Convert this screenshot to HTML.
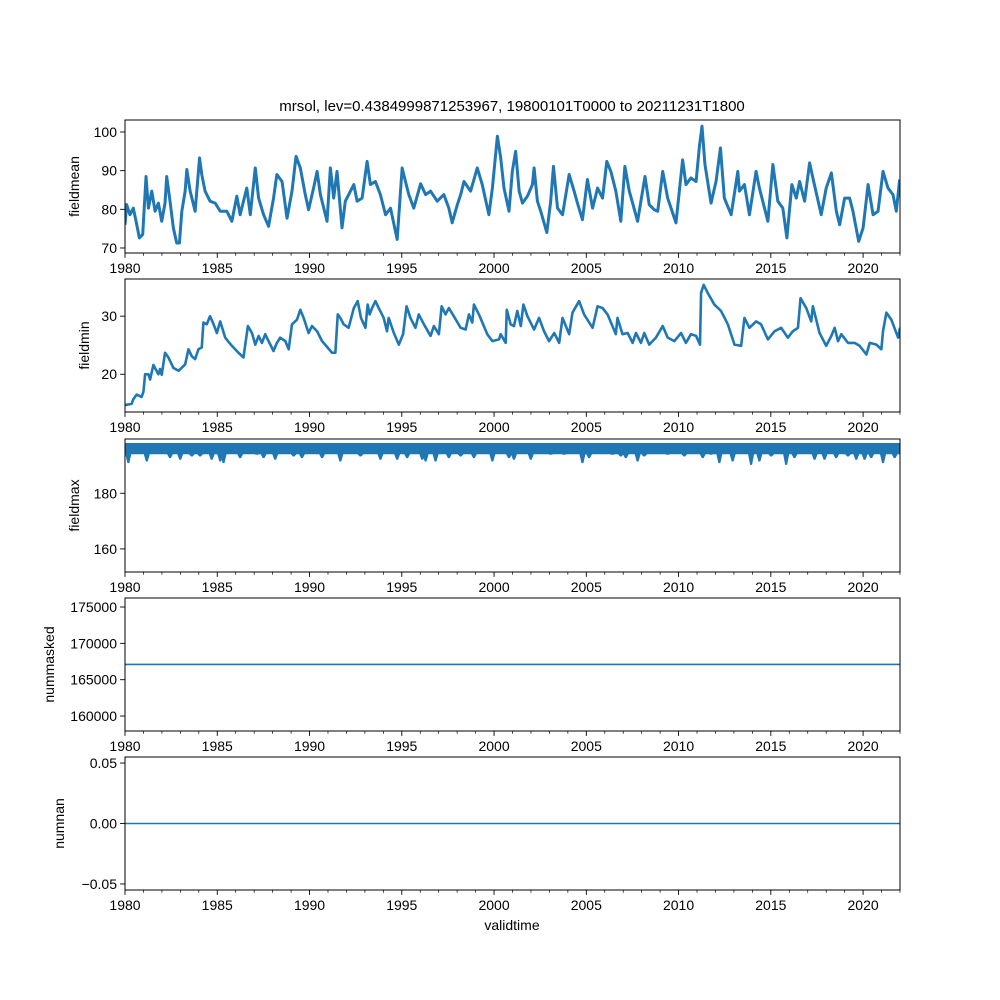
<!DOCTYPE html>
<html><head><meta charset="utf-8"><style>
body{margin:0;background:#fff}
svg{display:block;font-family:"Liberation Sans","DejaVu Sans",sans-serif}
</style></head><body>
<svg id="fig" width="1000" height="1000" viewBox="0 0 1000 1000">
<rect x="0" y="0" width="1000" height="1000" fill="#fff"/>
<text x="512" y="111" font-size="15" text-anchor="middle">mrsol, lev=0.4384999871253967, 19800101T0000 to 20211231T1800</text>
<text x="512" y="930" font-size="14" text-anchor="middle">validtime</text>
</svg>
<script>
// fieldmean
const meanT=[0,.09,.27,.45,.6,.78,.96,1.14,1.27,1.45,1.63,1.81,1.99,2.17,2.26,2.44,2.62,2.8,2.95,3.08,3.26,3.35,3.53,3.8,4.04,4.16,4.34,4.61,4.89,5.16,5.52,5.79,6.06,6.24,6.6,6.79,7.06,7.24,7.51,7.78,8.05,8.23,8.51,8.78,9.05,9.27,9.5,9.77,9.95,10.22,10.41,10.59,10.95,11.13,11.31,11.49,11.76,11.94,12.4,12.58,12.85,13.12,13.3,13.57,13.84,14.12,14.39,14.75,15.02,15.2,15.38,15.65,16.02,16.29,16.56,16.92,17.28,17.55,17.73,18.01,18.19,18.37,18.73,19.09,19.36,19.72,19.91,20.18,
20.36,20.54,20.81,20.99,21.17,21.36,21.54,21.81,22.08,22.17,22.35,22.53,22.86,23.07,23.22,23.44,23.71,24.07,24.34,24.52,24.79,25.06,25.34,25.61,25.88,26.11,26.33,26.6,26.87,27.09,27.33,27.78,28.18,28.41,28.68,28.87,29.14,29.41,29.86,30.22,30.4,30.67,30.95,31.13,31.27,31.43,31.76,32.03,32.27,32.48,32.85,33.21,33.3,33.57,33.84,34.2,34.38,34.84,35.11,35.38,35.65,35.87,36.14,36.38,36.56,36.83,37.1,37.28,37.73,38.0,38.28,38.55,38.73,39.0,39.27,39.45,39.76,40.0,40.27,40.54,40.81,41.08,41.35,41.62,41.8,41.98];
const meanV=[76,81.2,78.6,80.3,76.9,72.6,73.5,88.5,80.3,84.7,79.5,81.6,76.9,81.6,88.5,82.1,75.2,71.3,71.3,79.5,84.7,90.3,84.7,79.5,93.3,89,84.7,82.1,81.6,79.5,79.5,76.9,83.4,78.6,85.5,78.6,90.7,82.9,78.6,75.6,82.9,89,87.2,77.7,84.7,93.7,90.7,83.8,79.9,85.5,89.8,83.8,76.9,90.7,82.9,89.8,75.2,82.1,86.4,82.1,82.9,92.4,86.4,87.2,83.8,78.6,80.3,72.2,90.7,87.2,83.8,80.3,86.6,83.8,84.7,82.1,83.8,80.3,76.5,81.2,83.8,87.2,84.7,90.7,86.4,78.6,85.5,98.9,
93.3,85.5,79.5,89.8,95,84.7,81.6,83.4,86.4,90.7,82.1,79.5,74,82.1,91.1,80.3,78.6,89,84.7,81.6,77.3,87.7,80.3,85.5,82.9,92.4,89.8,84.7,76.9,91.1,84.7,76.9,88.5,81.2,79.9,79.5,89.8,82.9,76.5,92.8,86.4,88.1,87.2,96.3,101.5,91.6,81.6,87.2,95.9,82.9,78.6,89.8,84.7,86.4,78.6,89.8,85.5,76.9,91.6,82.1,80.3,72.6,86.4,82.9,87.2,82.1,92,88.1,78.6,85.5,89.4,79.5,76,82.9,82.9,79.5,71.7,75.2,86.4,78.6,79.5,89.8,85.5,83.8,79.5,87.7];
// fieldmin
const minT=[0,.36,.45,.63,.9,1.0,1.09,1.27,1.36,1.54,1.81,1.9,1.99,2.17,2.35,2.62,2.9,3.26,3.44,3.62,3.8,3.98,4.16,4.25,4.43,4.61,4.8,4.98,5.16,5.43,5.79,6.15,6.42,6.66,6.88,7.06,7.24,7.42,7.6,7.78,8.05,8.23,8.41,8.69,8.87,9.05,9.32,9.5,9.68,9.95,10.13,10.41,10.68,11.22,11.4,11.53,11.67,11.85,12.12,12.4,12.61,12.79,13.03,13.15,13.26,13.39,13.57,13.75,14.02,14.2,14.29,14.57,14.84,15.07,15.26,15.47,15.74,15.92,16.2,16.56,16.74,17.01,17.16,17.37,17.55,17.82,18.19,18.46,18.64,18.82,18.91,19.18,19.63,19.91,20.27,
20.36,20.63,20.69,20.9,21.08,21.26,21.45,21.59,21.81,22.17,22.44,22.71,22.98,23.26,23.53,23.71,24.07,24.25,24.61,24.88,25.34,25.61,25.88,26.15,26.6,26.69,26.96,27.24,27.51,27.69,27.96,28.14,28.41,28.77,29.14,29.41,29.77,30.13,30.4,30.67,30.95,31.16,31.22,31.36,31.58,31.94,32.3,32.67,33.03,33.39,33.57,33.84,34.2,34.47,34.84,35.2,35.56,35.92,36.19,36.47,36.61,36.92,37.19,37.28,37.64,38.0,38.28,38.46,38.64,38.82,39.18,39.54,39.81,40.18,40.36,40.72,40.99,41.08,41.26,41.53,41.9,42.0];
const minV=[14.7,14.9,15.7,16.5,16.1,17,20,20,19.1,21.6,20,20.9,19.9,23.7,22.9,21.1,20.6,21.7,24.3,23.1,22.6,24.3,24.6,28.9,28.6,30,28.6,27.1,29.1,26.3,24.9,23.7,22.9,28.3,27.1,25.1,26.6,25.4,26.9,25.7,24,25.4,26.3,25.7,24.3,28.6,29.4,31.1,29.7,27.1,28.3,27.4,25.7,23.7,23.7,30.3,29.7,28.6,28,31.4,32.6,29.7,28,32,30.3,31.4,32.6,31.4,29.7,27.4,29.7,27.1,25.1,26.9,31.7,29.7,28,30.3,28.6,26.6,28.3,26.9,31.7,30.3,31.4,30,28,27.7,30.3,28.9,32,30.3,26.9,25.7,26,
26.9,25.4,31.1,28.6,28.3,30.9,28.3,32,30,27.7,29.7,27.4,25.7,27.1,25.4,29.7,26.9,30.6,32.6,30.3,28,31.7,31.4,30.3,26.9,29.7,26.9,27.1,25.4,27.1,25.4,27.1,25.1,26.3,28.3,26.3,25.7,27.1,25.4,26.9,26.6,25.1,34,35.4,34,32,30.9,28.6,25.1,24.9,29.7,28,29.1,28.6,26,27.4,28,26.3,27.4,28,33.1,31.4,29.1,31.7,27.1,24.9,26.6,28,25.7,26.9,25.4,25.4,24.9,23.4,25.4,25.1,24.3,27.4,30.6,29.4,26.3,28];
// fieldmax: dip events below the upper envelope
const maxTop=197.9, maxBase=194.2;
const dipT=[.18,1.18,2.44,2.99,3.62,4.07,4.7,5.16,5.34,6.24,7.15,7.51,8.14,9.14,9.59,10.68,11.67,12.76,13.84,14.75,15.29,16.11,16.29,16.83,17.55,18.19,18.91,19.91,20.81,21.08,21.99,23.07,23.8,24.79,25.15,26.42,26.87,27.14,27.78,28.14,29.41,30.31,31.31,31.76,32.21,32.93,33.93,34.38,35.02,35.83,36.28,37.37,37.91,38.54,39.18,39.63,40.08,40.44,41.08,41.71];
const dipV=[191,191.6,192.8,192.2,193.4,193.4,192.2,191.6,191,192.8,194,192.8,192.2,193.4,192.8,192.8,191.6,193.4,192.2,192.2,192.8,192.2,191.6,191.6,192.8,193.4,192.8,191.6,192.8,192.2,192.2,194,194,191,192.8,194,193.4,192.8,191.6,193.4,194,193.4,192.8,194,191,191.6,190.4,191.6,193.4,190.4,192.8,192.2,192.2,192.8,193.4,192.2,192.2,192.8,191,192.8];
const nummaskedValue=[167100];
const numnanValue=[0];
const xTickYears=[1980,1985,1990,1995,2000,2005,2010,2015,2020];
const meanTicks=[70,80,90,100], minTicks=[20,30], maxTicks=[160,180];
const maskTicks=[160000,165000,170000,175000], nanTicks=[-0.05,0,0.05];
const nanTickLabels=["\u22120.05","0.00","0.05"];

const NS="http://www.w3.org/2000/svg";
const svg=document.getElementById('fig');
const X0=125,X1=900,T0=0,T1=42;
const xs=t=>X0+(t-T0)/(T1-T0)*(X1-X0);
function mk(tag,attrs,parent){const e=document.createElementNS(NS,tag);for(const k in attrs)e.setAttribute(k,attrs[k]);(parent||svg).appendChild(e);return e;}
const panels=[
 {name:'fieldmean',top:120,lo:68.7,hi:103.1,ticks:meanTicks},
 {name:'fieldmin',top:279,lo:13.5,hi:36.4,ticks:minTicks},
 {name:'fieldmax',top:439,lo:151.7,hi:199.5,ticks:maxTicks},
 {name:'nummasked',top:598,lo:157940,hi:176240,ticks:maskTicks},
 {name:'numnan',top:757,lo:-0.055,hi:0.055,ticks:nanTicks,labels:nanTickLabels}
];
const H=133;
panels.forEach((p,i)=>{
 const ys=v=>p.top+H-(v-p.lo)/(p.hi-p.lo)*H;
 p.ys=ys;
 const g=mk('g',{});
 
 
 const clip=mk('clipPath',{id:'c'+i},g);
 mk('rect',{x:X0,y:p.top,width:X1-X0,height:H},clip);
 const dg=mk('g',{'clip-path':'url(#c'+i+')'},g);
 p.dg=dg;
 p.ticks.forEach((v,k)=>{
  const y=ys(v);
  const tl=mk('line',{x1:X0-4.9,x2:X0,y1:y,y2:y,stroke:'#000','stroke-width':0.9},g);
  
  
  const tx=mk('text',{x:X0-8,y:y+5,'font-size':14,'text-anchor':'end'},g);
  tx.textContent=p.labels?p.labels[k]:String(v);
  
  
 });
 for(let yr=1980;yr<=2022;yr++){
  const x=xs(yr-1980);
  const major=xTickYears.includes(yr);
  mk('line',{x1:x,x2:x,y1:p.top+H,y2:p.top+H+(major?4.9:2.8),stroke:'#000','stroke-width':major?0.9:0.7},g);
 }
 xTickYears.forEach(yr=>{
  const tx=mk('text',{x:xs(yr-1980),y:p.top+H+20,'font-size':14,'text-anchor':'middle'},g);
  tx.textContent=String(yr);
  
  
 });
 const lab=mk('text',{x:0,y:0,'font-size':14,'text-anchor':'middle',transform:'translate('+(i==4?64:i==3?54:i==0?79:i==1?89:79)+','+(p.top+H/2)+') rotate(-90)'},g);
 lab.textContent=p.name;
 
 
 p.g=g;
});
function line(p,T,V,name,w){
 const d=T.map((t,k)=>(k?'L':'M')+xs(t).toFixed(2)+','+p.ys(V[k]).toFixed(2)).join('');
 const e=mk('path',{d:d,fill:'none',stroke:'#1f77b4','stroke-width':w,'stroke-linejoin':'round'},p.dg);
 
 
}
line(panels[0],meanT,meanV,'fieldmean-line',3);
line(panels[1],minT,minV,'fieldmin-line',2.6);
{
 const p=panels[2];
 let d='M'+xs(0)+','+p.ys(maxTop)+'L'+xs(42)+','+p.ys(maxTop)+'L'+xs(42)+','+p.ys(maxBase);
 for(let k=dipT.length-1;k>=0;k--){
  const t=dipT[k];
  d+='L'+xs(t+0.14).toFixed(2)+','+p.ys(maxBase).toFixed(2)+'L'+xs(t+0.03).toFixed(2)+','+p.ys(dipV[k]).toFixed(2)+'L'+xs(t-0.03).toFixed(2)+','+p.ys(dipV[k]).toFixed(2)+'L'+xs(t-0.14).toFixed(2)+','+p.ys(maxBase).toFixed(2);
 }
 d+='L'+xs(0)+','+p.ys(maxBase)+'Z';
 const e=mk('path',{d:d,fill:'#1f77b4',stroke:'#1f77b4','stroke-width':1},p.dg);
 
 
}
line(panels[3],[0,42],[nummaskedValue[0],nummaskedValue[0]],'nummasked-line',1.6);
line(panels[4],[0,42],[numnanValue[0],numnanValue[0]],'numnan-line',1.6);
panels.forEach(p=>{
 const fr=mk('rect',{x:X0,y:p.top,width:X1-X0,height:H,fill:'none',stroke:'#000','stroke-width':1},p.g);
 
 
});
</script>
</body></html>
